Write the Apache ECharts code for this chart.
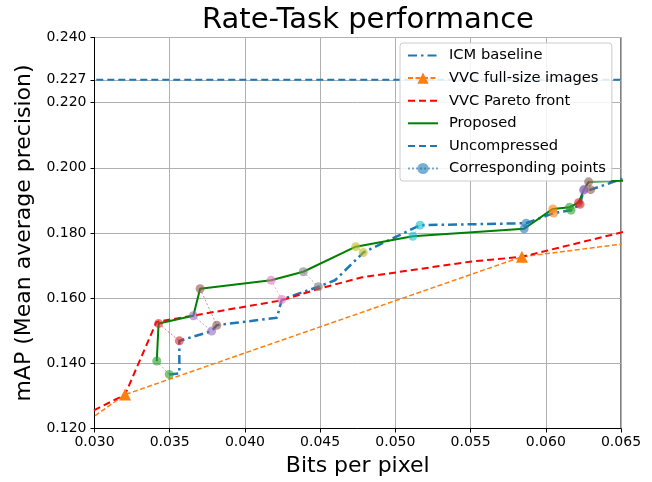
<!DOCTYPE html>
<html>
<head>
<meta charset="utf-8">
<script src="https://cdn.jsdelivr.net/npm/echarts@6/dist/echarts.min.js"></script>
<style>html,body{margin:0;padding:0;background:#fff}#c{width:652px;height:482px}</style>
</head>
<body>
<div id="c"></div>
<script>
// ---- data (bits per pixel, mAP) ----
const proposedBpp = [0.03414, 0.03426, 0.03657, 0.03702, 0.04174, 0.04388, 0.04737, 0.05116, 0.05856, 0.06047, 0.06158, 0.06218, 0.06255, 0.06285, 0.07000];
const proposedMap = [0.1407, 0.1522, 0.1546, 0.1629, 0.1655, 0.1681, 0.1758, 0.1790, 0.1813, 0.1874, 0.1879, 0.1893, 0.1934, 0.1957, 0.1967];

const icmBpp = [0.03497, 0.03564, 0.03564, 0.03779, 0.03813, 0.04213, 0.04245, 0.04488, 0.04599, 0.04787, 0.05164, 0.05869, 0.06052, 0.06168, 0.06228, 0.06251, 0.06298, 0.07000];
const icmMap = [0.1366, 0.1369, 0.1469, 0.1499, 0.1517, 0.1540, 0.1596, 0.1635, 0.1655, 0.1740, 0.1824, 0.1830, 0.1861, 0.1870, 0.1888, 0.1931, 0.1933, 0.2043];

const paretoBpp = [0.0280, 0.03203, 0.03412, 0.04240, 0.04499, 0.04779, 0.05497, 0.05841, 0.0700];
const paretoMap = [0.1210, 0.1304, 0.1527, 0.1593, 0.1630, 0.1664, 0.1712, 0.1727, 0.1858];

const vvcBpp = [0.0280, 0.03203, 0.05841, 0.0700];
const vvcMap = [0.1173, 0.1304, 0.1727, 0.1795];

const uncompressedMap = 0.227;

// corresponding point pairs: index into proposed / ICM arrays
const pairProposedIdx = [0, 1, 2, 3, 4, 5, 6, 7, 8, 9, 10, 11, 12, 13];
const pairIcmIdx      = [0, 2, 3, 4, 6, 7, 9, 10, 11, 12, 13, 14, 15, 16];

const xTicks = [0.030, 0.035, 0.040, 0.045, 0.050, 0.055, 0.060, 0.065];
const yTicks = [0.120, 0.140, 0.160, 0.180, 0.200, 0.220, 0.227, 0.240];

// ---- chart ----
const tab10 = ['#1f77b4','#ff7f0e','#2ca02c','#d62728','#9467bd','#8c564b','#e377c2','#7f7f7f','#bcbd22','#17becf'];
const FONT = 'DejaVu Sans';
const zip = (a, b) => a.map((v, i) => [v, b[i]]);

const series = [
  { name: 'ICM baseline', type: 'line', data: zip(icmBpp, icmMap), symbol: 'none',
    lineStyle: { color: '#1f77b4', width: 2.5, type: [9, 4, 2.5, 4] }, itemStyle: { color: '#1f77b4' }, z: 3 },
  { name: 'VVC full-size images', type: 'line', data: zip(vvcBpp, vvcMap), symbol: 'triangle', symbolSize: 12,
    lineStyle: { color: '#ff7f0e', width: 1.5, type: [5, 2.5] }, itemStyle: { color: '#ff7f0e' }, z: 3 },
  { name: 'VVC Pareto front', type: 'line', data: zip(paretoBpp, paretoMap), symbol: 'none',
    lineStyle: { color: '#ff0000', width: 2, type: [7, 4] }, itemStyle: { color: '#ff0000' }, z: 3 },
  { name: 'Proposed', type: 'line', data: zip(proposedBpp, proposedMap), symbol: 'none',
    lineStyle: { color: '#008000', width: 2 }, itemStyle: { color: '#008000' }, z: 3 },
  { name: 'Uncompressed', type: 'line', data: [[0.025, uncompressedMap], [0.070, uncompressedMap]], symbol: 'none',
    lineStyle: { color: '#1f77b4', width: 2, type: [7, 4] }, itemStyle: { color: '#1f77b4' }, z: 3 }
];

// order so that the blue pair comes first (legend takes its style)
const order = pairProposedIdx.map((_, k) => k);
order.sort((a, b) => ((a + 2) % 10 === 0 ? -1 : 0) - ((b + 2) % 10 === 0 ? -1 : 0));
order.forEach(k => {
  const col = tab10[(k + 2) % 10];
  const p = pairProposedIdx[k], q = pairIcmIdx[k];
  series.push({
    name: 'Corresponding points', type: 'line',
    data: [[proposedBpp[p], proposedMap[p]], [icmBpp[q], icmMap[q]]],
    symbol: 'circle', symbolSize: 9, showSymbol: true,
    lineStyle: { color: col, width: 1, type: [2, 2], opacity: 0.6 },
    itemStyle: { color: col, opacity: 0.6 }, z: 5
  });
});

const noSym = { itemStyle: { opacity: 0 } };
const chart = echarts.init(document.getElementById('c'), null, { renderer: 'canvas' });
chart.setOption({
  animation: false,
  backgroundColor: '#fff',
  title: { text: 'Rate-Task performance', left: 363, top: 1, textAlign: 'center',
    textStyle: { fontFamily: FONT, fontSize: 29, fontWeight: 'normal', color: '#000' } },
  grid: { left: 94.5, right: 31, top: 37.5, bottom: 53.5, show: true, borderColor: '#000', borderWidth: 1,
    outerBoundsMode: 'none', containLabel: false },
  legend: {
    orient: 'vertical', left: 400, top: 43,
    data: [
      Object.assign({ name: 'ICM baseline' }, noSym),
      { name: 'VVC full-size images' },
      Object.assign({ name: 'VVC Pareto front' }, noSym),
      Object.assign({ name: 'Proposed' }, noSym),
      Object.assign({ name: 'Uncompressed' }, noSym),
      { name: 'Corresponding points' }
    ],
    itemWidth: 30, itemHeight: 14, itemGap: 7.6,
    padding: [5, 6, 5, 7],
    backgroundColor: 'rgba(255,255,255,0.85)', borderColor: '#cccccc', borderWidth: 1, borderRadius: 3,
    textStyle: { fontFamily: FONT, fontSize: 14.7, color: '#000', padding: [0, 0, 0, 6] },
    selectedMode: false
  },
  xAxis: {
    type: 'value', min: 0.030, max: 0.065, interval: 0.005,
    name: 'Bits per pixel', nameLocation: 'middle', nameGap: 27,
    nameTextStyle: { fontFamily: FONT, fontSize: 22, color: '#000' },
    axisLine: { show: true, lineStyle: { color: '#000', width: 1 } },
    axisTick: { show: true, inside: false, length: 4, lineStyle: { color: '#000' } },
    axisLabel: { fontFamily: FONT, fontSize: 14, color: '#000', margin: 7,
      customValues: xTicks, formatter: v => v.toFixed(3) },
    splitLine: { show: true, lineStyle: { color: '#b0b0b0', width: 1 } }
  },
  yAxis: {
    type: 'value', min: 0.120, max: 0.240, interval: 0.020,
    name: 'mAP (Mean average precision)', nameLocation: 'middle', nameGap: 47,
    nameTextStyle: { fontFamily: FONT, fontSize: 22, color: '#000' },
    axisLine: { show: true, lineStyle: { color: '#000', width: 1 } },
    axisTick: { show: true, inside: false, length: 4, lineStyle: { color: '#000' }, customValues: yTicks },
    axisLabel: { fontFamily: FONT, fontSize: 14, color: '#000', margin: 8,
      customValues: yTicks, formatter: v => v.toFixed(3) },
    splitLine: { show: true, lineStyle: { color: '#b0b0b0', width: 1 } }
  },
  series: series
});
</script>
</body>
</html>
